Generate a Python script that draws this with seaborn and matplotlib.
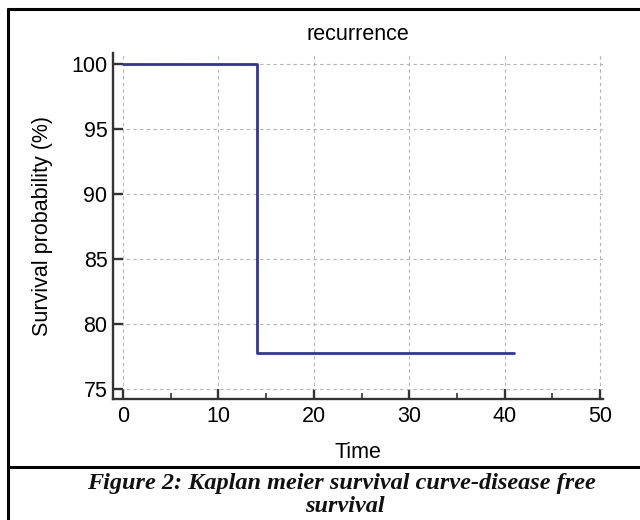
import numpy as np
import pandas as pd
import seaborn as sns
import matplotlib.pyplot as plt
from matplotlib.lines import Line2D
from matplotlib.ticker import MultipleLocator

sns.set_style("white")
plt.rcParams['font.family'] = ['Liberation Sans', 'DejaVu Sans']
plt.rcParams['text.color'] = 'black'
plt.rcParams['axes.labelcolor'] = 'black'
plt.rcParams['xtick.color'] = 'black'
plt.rcParams['ytick.color'] = 'black'

# survival data
times = [0, 14, 41]
surv = [100, 77.78, 77.78]
x_ticks = [0, 10, 20, 30, 40, 50]
y_ticks = [75, 80, 85, 90, 95, 100]

df = pd.DataFrame({'Time': times, 'Survival': surv})

fig = plt.figure(figsize=(6.4, 5.2), dpi=100)
ax = fig.add_axes([113/640, 1-399/520, (603-113)/640, (399-53)/520])

sns.lineplot(data=df, x='Time', y='Survival', drawstyle='steps-post',
             color='#3333a0', linewidth=2.0, ax=ax)

ax.set_xlim(-1.05, 50.3)
ax.set_ylim(74.23, 100.85)
ax.set_xticks(x_ticks)
ax.set_yticks(y_ticks)
ax.xaxis.set_minor_locator(MultipleLocator(5))
ax.grid(True, which='major', linestyle=(0, (3, 3)), color='#b4b4b4', linewidth=0.8)

for s in ['top', 'right']:
    ax.spines[s].set_visible(False)
for s in ['left', 'bottom']:
    ax.spines[s].set_color('#333333')
    ax.spines[s].set_linewidth(1.7)

ax.tick_params(which='both', bottom=True, left=True, top=False, right=False)
ax.tick_params(which='major', direction='in', length=7.5, width=1.7, color='#333333',
               labelsize=15.5, labelcolor='black')
ax.tick_params(axis='x', which='major', pad=5)
ax.tick_params(axis='y', which='major', pad=4)
ax.tick_params(axis='x', which='minor', direction='in', length=4, width=1.2, color='#333333')
ax.tick_params(axis='y', which='minor', length=0)

ax.set_xlabel('Time', fontsize=15.5, labelpad=11)
ax.set_ylabel('Survival probability (%)', fontsize=15.5, labelpad=13)
ax.set_title('recurrence', fontsize=15.5, pad=9.5)

# outer frame and caption
fig.add_artist(Line2D([7.5/640, 1], [1-8.5/520, 1-8.5/520], color='black', lw=2.2))
fig.add_artist(Line2D([7.5/640, 7.5/640], [0, 1-8.5/520], color='black', lw=2.2))
fig.add_artist(Line2D([7.5/640, 1], [1-467/520, 1-467/520], color='black', lw=2.2))

cap_kw = dict(ha='center', va='center', fontsize=17.5, fontweight='bold', fontstyle='italic',
              family=['Liberation Serif', 'DejaVu Serif'], color='#111111')
fig.text(341/640, 1-483/520, 'Figure 2: Kaplan meier survival curve-disease free', **cap_kw)
fig.text(345/640, 1-507/520, 'survival', **cap_kw)

fig.savefig('out.png', dpi=100)
